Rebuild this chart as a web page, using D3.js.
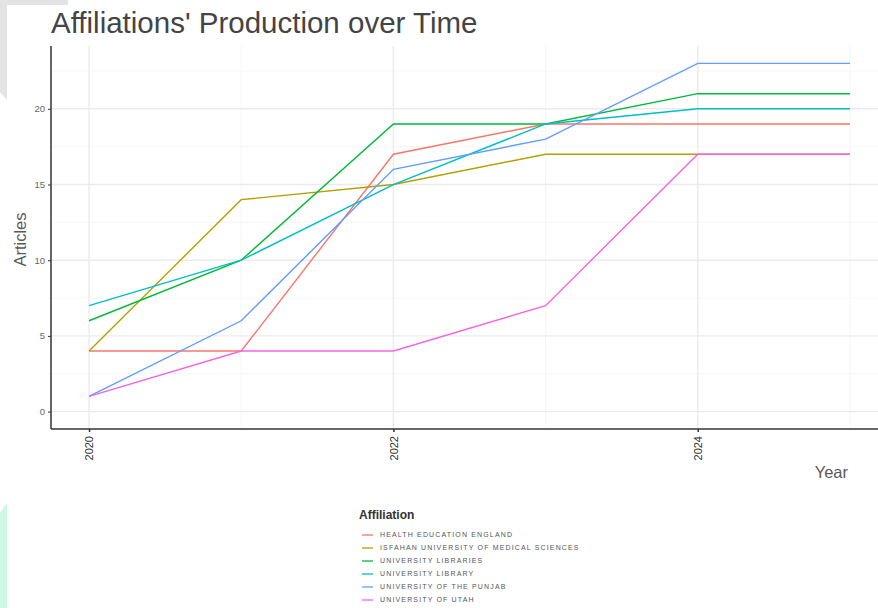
<!DOCTYPE html>
<html>
<head>
<meta charset="utf-8">
<script src="https://cdn.jsdelivr.net/npm/d3@7"></script>
<style>
  body { margin: 0; background: #fff; }
  svg { display: block; font-family: "Liberation Sans", Arial, sans-serif; }
</style>
</head>
<body>
<div id="chart"></div>
<script>
// data
const years = [2020, 2021, 2022, 2023, 2024, 2025];
const affiliations = [
  "HEALTH EDUCATION ENGLAND",
  "ISFAHAN UNIVERSITY OF MEDICAL SCIENCES",
  "UNIVERSITY LIBRARIES",
  "UNIVERSITY LIBRARY",
  "UNIVERSITY OF THE PUNJAB",
  "UNIVERSITY OF UTAH"
];
const healthEducation = [4, 4, 17, 19, 19, 19];
const isfahan = [4, 14, 15, 17, 17, 17];
const uniLibraries = [6, 10, 19, 19, 21, 21];
const uniLibrary = [7, 10, 15, 19, 20, 20];
const punjab = [1, 6, 16, 18, 23, 23];
const utah = [1, 4, 4, 7, 17, 17];
const colors = ["#F8766D", "#B79F00", "#00BA38", "#00BFC4", "#619CFF", "#F564E3"];
const yTicks = [0, 5, 10, 15, 20];
const xTicks = [2020, 2022, 2024];

const seriesValues = [healthEducation, isfahan, uniLibraries, uniLibrary, punjab, utah];
const series = affiliations.map((name, i) => ({
  name,
  color: colors[i],
  points: years.map((y, j) => ({ year: y, value: seriesValues[i][j] }))
}));

const width = 878, height = 608;
const svg = d3.select("#chart").append("svg")
  .attr("width", width)
  .attr("height", height);

// background decorations from the screenshot
svg.append("path")
  .attr("d", "M0,0 L68,0 L68,5 L7,5 L7,100 L0,92 Z")
  .attr("fill", "#e3e3e3");
svg.append("path")
  .attr("d", "M0,513 L7,503 L7,608 L0,608 Z")
  .attr("fill", "#cdf9e3");

// panel
const panel = { left: 51, right: 888, top: 46, bottom: 429 };
const yMax = d3.max(seriesValues.flat());
const x = d3.scaleLinear()
  .domain([2020 - 0.25, 2025 + 0.25])
  .range([panel.left, panel.right]);
const y = d3.scaleLinear()
  .domain([0 - yMax * 0.05, yMax + yMax * 0.05])
  .range([panel.bottom, panel.top]);

const grid = svg.append("g");
// minor grid
grid.selectAll(".ymin")
  .data(d3.range(2.5, yMax + 1, 5))
  .enter().append("line")
  .attr("x1", panel.left).attr("x2", panel.right)
  .attr("y1", d => y(d)).attr("y2", d => y(d))
  .attr("stroke", "#f2f2f2").attr("stroke-width", 0.8);
grid.selectAll(".xmin")
  .data([2021, 2023, 2025])
  .enter().append("line")
  .attr("y1", panel.top).attr("y2", panel.bottom)
  .attr("x1", d => x(d)).attr("x2", d => x(d))
  .attr("stroke", "#f2f2f2").attr("stroke-width", 0.8);
// major grid
grid.selectAll(".ymaj")
  .data(yTicks)
  .enter().append("line")
  .attr("x1", panel.left).attr("x2", panel.right)
  .attr("y1", d => y(d)).attr("y2", d => y(d))
  .attr("stroke", "#ebebeb").attr("stroke-width", 1.4);
grid.selectAll(".xmaj")
  .data(xTicks)
  .enter().append("line")
  .attr("y1", panel.top).attr("y2", panel.bottom)
  .attr("x1", d => x(d)).attr("x2", d => x(d))
  .attr("stroke", "#ebebeb").attr("stroke-width", 1.4);

// lines
const line = d3.line()
  .x(d => x(d.year))
  .y(d => y(d.value));
svg.append("g")
  .selectAll("path")
  .data(series)
  .enter().append("path")
  .attr("d", d => line(d.points))
  .attr("fill", "none")
  .attr("stroke", d => d.color)
  .attr("stroke-width", 1.4);

// axes
const yAxis = svg.append("g")
  .attr("transform", `translate(${panel.left},0)`)
  .call(d3.axisLeft(y).tickValues(yTicks).tickSize(3).tickPadding(3));
yAxis.select(".domain").attr("d", `M0,${panel.top}V${panel.bottom}`)
  .attr("stroke", "#333").attr("stroke-width", 1.5);
yAxis.selectAll(".tick line").attr("stroke", "#333");
yAxis.selectAll(".tick text")
  .attr("fill", "#666").attr("font-size", 9.5)
  .attr("font-family", "Liberation Sans, Arial, sans-serif");

const xAxis = svg.append("g")
  .attr("transform", `translate(0,${panel.bottom})`)
  .call(d3.axisBottom(x).tickValues(xTicks).tickFormat(d3.format("d")).tickSize(3).tickPadding(3));
xAxis.select(".domain").attr("d", `M${panel.left},0H${width}`)
  .attr("stroke", "#333").attr("stroke-width", 1.5);
xAxis.selectAll(".tick line").attr("stroke", "#333").attr("stroke-width", 1.5);
xAxis.selectAll(".tick text")
  .attr("fill", "#333").attr("font-size", 11)
  .attr("font-family", "Liberation Sans, Arial, sans-serif")
  .attr("transform", "rotate(-90)")
  .attr("text-anchor", "end")
  .attr("x", -7).attr("y", 0).attr("dy", "0.35em");

// titles
svg.append("text")
  .attr("x", 51).attr("y", 33)
  .attr("font-size", 29.5)
  .attr("fill", "#444")
  .text("Affiliations' Production over Time");
svg.append("text")
  .attr("transform", `translate(26,${(panel.top + panel.bottom) / 2 + 2}) rotate(-90)`)
  .attr("text-anchor", "middle")
  .attr("font-size", 16.5)
  .attr("fill", "#5a5a5a")
  .text("Articles");
svg.append("text")
  .attr("x", 848).attr("y", 478)
  .attr("text-anchor", "end")
  .attr("font-size", 16.5)
  .attr("fill", "#5a5a5a")
  .text("Year");

// legend
const legend = svg.append("g").attr("transform", "translate(359,519)");
legend.append("text")
  .attr("x", 0).attr("y", 0)
  .attr("font-size", 12)
  .attr("font-weight", "bold")
  .attr("fill", "#333")
  .text("Affiliation");
const item = legend.selectAll(".item")
  .data(series)
  .enter().append("g")
  .attr("transform", (d, i) => `translate(0,${16 + i * 13})`);
item.append("line")
  .attr("x1", 3).attr("x2", 14)
  .attr("stroke", d => d.color)
  .attr("stroke-width", 1.3);
item.append("text")
  .attr("x", 21).attr("dy", "0.35em")
  .attr("font-size", 7)
  .attr("letter-spacing", 1.15)
  .attr("fill", "#555")
  .text(d => d.name);
</script>
</body>
</html>
